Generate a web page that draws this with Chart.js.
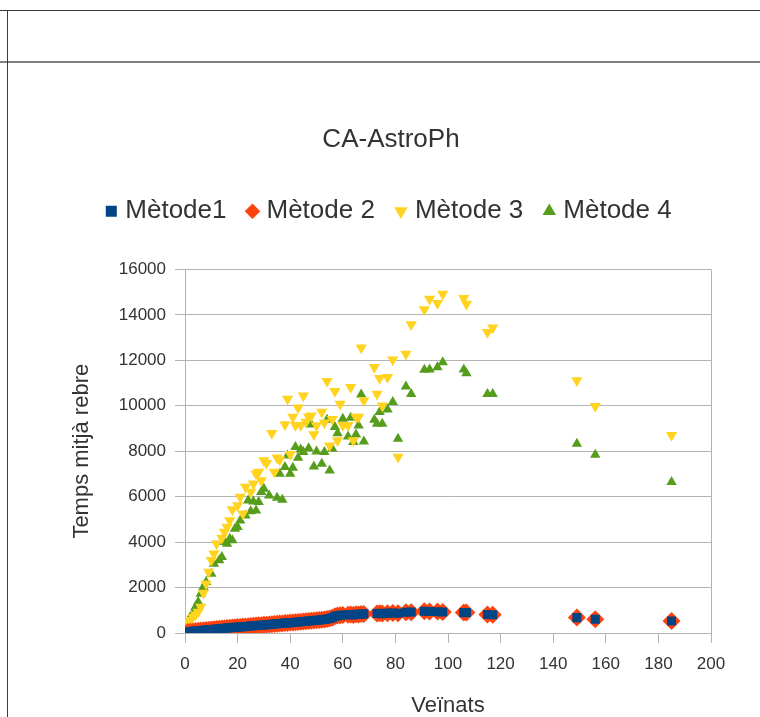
<!DOCTYPE html>
<html>
<head>
<meta charset="utf-8">
<title>CA-AstroPh</title>
<script src="https://cdn.jsdelivr.net/npm/chart.js@4.4.1/dist/chart.umd.min.js"></script>
<style>
    html, body { margin: 0; padding: 0; background: #ffffff; }
    #wrap { position: relative; width: 760px; height: 717px; overflow: hidden; }
    #chart { position: absolute; left: 0; top: 0; }
    .rule { position: absolute; }
</style>
</head>
<body>
<div id="wrap">
    <canvas id="chart" width="760" height="717"></canvas>
    <!-- spreadsheet cell borders around the chart -->
    <div class="rule" style="left:0; top:10px; width:760px; height:1px; background:#3c3c3c;"></div>
    <div class="rule" style="left:0; top:61px; width:760px; height:2px; background:#808080;"></div>
    <div class="rule" style="left:7px; top:10px; width:1px; height:707px; background:#3c3c3c;"></div>
</div>
<script>
// Mètode 1 / Mètode 2: average time per number of neighbours
const m1X = [
    1, 2, 3, 4, 5, 6, 7, 8, 9, 10, 11, 12, 13, 14, 15, 16, 17, 18, 19, 20,
    21, 22, 23, 24, 25, 26, 27, 28, 29, 30, 31, 32, 33, 34, 35, 36, 37, 38, 39, 40,
    41, 42, 43, 44, 45, 46, 47, 48, 49, 50, 51, 52, 53, 54, 55, 56,
    57, 58, 59, 60, 62, 63, 64, 65, 66, 67, 68, 73, 74, 75, 77, 79, 81, 84, 86,
    91, 93, 96, 98, 106, 107, 115, 117, 149, 156, 185
];
const m1Y = [
    45, 58, 72, 84, 97, 108, 121, 130, 143, 152, 166, 174, 187, 196, 208, 216, 229, 238, 249, 257,
    268, 279, 287, 298, 306, 318, 326, 337, 345, 356, 364, 376, 384, 395, 404, 415, 423, 436, 444, 455,
    464, 476, 484, 497, 505, 518, 526, 539, 548, 560, 571, 583, 597, 612, 640, 668,
    735, 762, 781, 790, 804, 812, 798, 826, 818, 835, 842, 856, 868, 851, 874, 880, 866, 915, 920,
    958, 946, 939, 927, 897, 903, 815, 805, 677, 602, 528
];
const m2Y = [
    47, 60, 71, 86, 96, 110, 120, 132, 142, 154, 165, 176, 186, 198, 207, 218, 228, 240, 248, 259,
    267, 281, 286, 300, 305, 320, 325, 339, 344, 358, 363, 378, 383, 397, 403, 417, 422, 438, 443, 457,
    463, 478, 483, 499, 504, 520, 525, 541, 547, 562, 570, 585, 596, 614, 638, 670,
    733, 765, 779, 792, 802, 815, 796, 828, 816, 838, 840, 859, 866, 854, 872, 883, 864, 918, 918,
    961, 944, 942, 925, 900, 901, 818, 803, 680, 600, 531
];

// Mètode 3
const m3X = [
    1, 2, 3, 4, 5, 6, 7, 8, 9, 10, 11, 12, 14, 15, 16, 17, 18, 20, 21, 22,
    23, 25, 26, 27, 28, 29, 30, 31, 33, 34, 35, 36, 38, 39, 40, 41, 42, 43, 44, 45,
    46, 47, 48, 49, 50, 52, 53, 54, 55, 56, 57, 58, 59, 60, 62, 63, 64, 65, 66, 67,
    68, 72, 73, 74, 75, 77, 79, 81, 84, 86, 91, 93, 96, 98, 106, 107, 115, 117, 149, 156, 185
];
const m3Y = [
    500, 560, 700, 800, 920, 1140, 1760, 2170, 2680, 3200, 3490, 3930, 4180, 4440, 4660, 4950, 5430, 5610, 5980, 5250,
    6420, 6200, 6570, 7010, 7080, 6710, 7590, 7470, 8790, 7080, 7710, 7620, 9180, 10300, 7870, 9500, 9140, 9910, 9140, 10440,
    9280, 9520, 9560, 8740, 9130, 9720, 9250, 11080, 8240, 9410, 10640, 8470, 10080, 9140, 9140, 10810, 8470, 9500, 9500, 12550,
    10230, 11690, 10520, 11210, 10000, 11250, 12020, 7740, 12280, 13570, 14230, 14700, 14510, 14920, 14730, 14480, 13230, 13430, 11110, 9980, 8700
];

// Mètode 4
const m4X = [
    2, 3, 4, 5, 6, 7, 8, 10, 11, 13, 14, 15, 16, 17, 18, 19, 20, 21, 23, 24,
    25, 26, 27, 28, 29, 30, 32, 35, 36, 37, 38, 39, 40, 41, 42, 43, 44, 45, 47, 48,
    49, 50, 52, 53, 54, 55, 56, 57, 58, 60, 62, 63, 64, 65, 66, 67, 68, 72, 73, 74,
    75, 77, 79, 81, 84, 86, 91, 93, 96, 98, 106, 107, 115, 117, 149, 156, 185
];
const m4Y = [
    700, 850, 1140, 1360, 1730, 2020, 2240, 2610, 3050, 3200, 3340, 4000, 3930, 4150, 4080, 4590, 4660, 4950, 5170, 5830,
    5360, 5790, 5390, 5760, 6200, 6350, 6050, 5950, 7010, 5860, 7300, 7810, 7010, 7270, 8180, 7710, 8080, 7960, 8130, 9170,
    7330, 7990, 7450, 7960, 9380, 7150, 8110, 9060, 8790, 9430, 8650, 9470, 8400, 8740, 9130, 10490, 8430, 9380, 9210, 9720,
    9210, 9830, 10160, 8550, 10850, 10520, 11580, 11600, 11690, 11910, 11600, 11430, 10520, 10520, 8330, 7840, 6640
];

// Axis ticks
const xTicks = [0, 20, 40, 60, 80, 100, 120, 140, 160, 180, 200];
const yTicks = [0, 2000, 4000, 6000, 8000, 10000, 12000, 14000, 16000];

function toPoints(xs, ys) {
    return xs.map(function(x, i) { return { x: x, y: ys[i] }; });
}

const gridGray = '#b3b3b3';
Chart.defaults.font.family = '"Liberation Sans", Arial, sans-serif';
Chart.defaults.color = '#333333';

new Chart(document.getElementById('chart').getContext('2d'), {
    type: 'scatter',
    data: {
        datasets: [
            {
                label: 'Mètode1',
                data: toPoints(m1X, m1Y),
                pointStyle: 'rect',
                pointRadius: 6.4,
                backgroundColor: '#004586',
                borderWidth: 0
            },
            {
                label: 'Mètode 2',
                data: toPoints(m1X, m2Y),
                pointStyle: 'rectRot',
                pointRadius: 9,
                backgroundColor: '#ff420e',
                borderWidth: 0
            },
            {
                label: 'Mètode 3',
                data: toPoints(m3X, m3Y),
                pointStyle: 'triangle',
                rotation: 180,
                pointRadius: 6.5,
                backgroundColor: '#ffd320',
                borderWidth: 0
            },
            {
                label: 'Mètode 4',
                data: toPoints(m4X, m4Y),
                pointStyle: 'triangle',
                pointRadius: 6,
                backgroundColor: '#579d1c',
                borderWidth: 0
            }
        ]
    },
    options: {
        responsive: false,
        animation: false,
        layout: {
            padding: { top: 62, left: 71, right: 49, bottom: 0 }
        },
        plugins: {
            tooltip: { enabled: false },
            title: {
                display: true,
                text: 'CA-AstroPh',
                color: '#333333',
                font: { size: 26, weight: 'normal' },
                padding: { top: 62, bottom: 18 }
            },
            legend: {
                display: true,
                position: 'top',
                labels: {
                    usePointStyle: true,
                    boxWidth: 2,
                    boxHeight: 11,
                    padding: 25,
                    color: '#333333',
                    font: { size: 26 }
                }
            },
            // empty block that keeps the plot area below the legend
            subtitle: {
                display: true,
                text: '',
                position: 'top',
                weight: 500,
                font: { size: 1 },
                padding: { top: 34, bottom: 0 }
            }
        },
        scales: {
            x: {
                type: 'linear',
                min: 0,
                max: 200,
                afterBuildTicks: function(scale) {
                    scale.ticks = xTicks.map(function(v) { return { value: v }; });
                },
                afterFit: function(scale) {
                    scale.height = 84;
                },
                ticks: {
                    padding: 11,
                    color: '#333333',
                    font: { size: 17 },
                    callback: function(value) { return String(value); }
                },
                grid: {
                    drawOnChartArea: true,
                    color: function(ctx) {
                        return ctx.tick && ctx.tick.value === 200 ? gridGray : 'rgba(0,0,0,0)';
                    },
                    tickColor: gridGray,
                    tickLength: 10
                },
                border: { display: true, color: gridGray },
                title: {
                    display: true,
                    text: 'Veïnats',
                    color: '#333333',
                    font: { size: 22, lineHeight: 1 },
                    padding: { top: 0, bottom: 0 }
                }
            },
            y: {
                type: 'linear',
                min: 0,
                max: 16000,
                afterBuildTicks: function(scale) {
                    scale.ticks = yTicks.map(function(v) { return { value: v }; });
                },
                afterFit: function(scale) {
                    scale.width = 114;
                },
                ticks: {
                    padding: 9,
                    color: '#333333',
                    font: { size: 17 },
                    callback: function(value) { return String(value); }
                },
                grid: {
                    color: gridGray,
                    tickColor: gridGray,
                    tickLength: 10
                },
                border: { display: true, color: gridGray },
                title: {
                    display: true,
                    text: 'Temps mitjà rebre',
                    color: '#333333',
                    font: { size: 22, lineHeight: 1 },
                    padding: { top: 0, bottom: 0 }
                }
            }
        }
    }
});
</script>
</body>
</html>
